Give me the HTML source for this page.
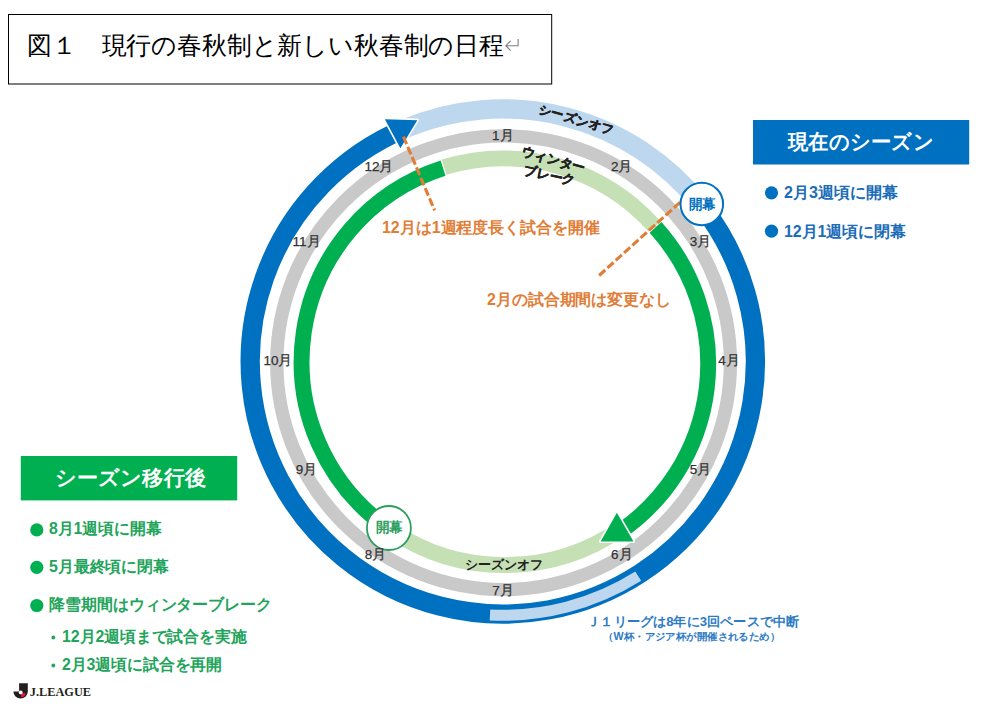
<!DOCTYPE html>
<html><head><meta charset="utf-8"><style>
html,body{margin:0;padding:0;background:#fff;}
body{width:988px;height:707px;overflow:hidden;}
svg{display:block;font-family:"Liberation Sans", sans-serif;}
</style></head><body>
<svg width="988" height="707" viewBox="0 0 988 707">
<rect width="988" height="707" fill="#fff"/>
<path d="M404.10,128.98 A252.6,252.6 0 0 1 701.03,204.94" stroke="#BDD7EE" stroke-width="19.3" fill="none"/>
<path d="M701.03,204.94 A252.6,252.6 0 1 1 404.10,128.98" stroke="#0070C0" stroke-width="19.3" fill="none"/>
<path d="M638.23,576.15 A253.8,253.8 0 0 1 489.96,614.97" stroke="#BDD7EE" stroke-width="11" fill="none"/>
<path d="M503.60,135.80 A226.9,226.9 0 0 1 503.60,589.60 A226.9,226.9 0 0 1 503.60,135.80" stroke="#C9C9C9" stroke-width="13.3" fill="none"/>
<path d="M621.51,528.33 A203.3,203.3 0 0 1 389.75,529.34" stroke="#C5E0B4" stroke-width="15.9" fill="none"/>
<path d="M444.04,167.18 A203.3,203.3 0 0 1 654.59,226.56" stroke="#C5E0B4" stroke-width="15.9" fill="none"/>
<path d="M389.75,529.34 A203.3,203.3 0 0 1 443.09,168.12" stroke="#00B050" stroke-width="15.9" fill="none"/>
<path d="M655.51,227.44 A203.3,203.3 0 0 1 618.58,532.54" stroke="#00B050" stroke-width="15.9" fill="none"/>
<polygon points="384.9,119.2 417.3,120.2 400.4,148.2" fill="#fff" stroke="#fff" stroke-width="3.2" stroke-linejoin="round"/>
<polygon points="384.9,119.2 417.3,120.2 400.4,148.2" fill="#0070C0"/>
<polygon points="616.9,512.7 600.6,541.4 633.5,541.4" fill="#fff" stroke="#fff" stroke-width="3.2" stroke-linejoin="round"/>
<polygon points="616.9,512.7 600.6,541.4 633.5,541.4" fill="#00B050"/>
<line x1="403.4" y1="136.5" x2="434.6" y2="210.4" stroke="#E07D37" stroke-width="3.1" stroke-dasharray="8.2 3"/>
<line x1="680" y1="202.4" x2="599" y2="275.6" stroke="#E07D37" stroke-width="3.1" stroke-dasharray="8.2 3"/>
<circle cx="701.8" cy="204" r="21.3" fill="#fff" stroke="#0070C0" stroke-width="2"/>
<text x="702.1" y="209" font-size="14" fill="#0070C0" font-weight="bold" text-anchor="middle" textLength="27" lengthAdjust="spacingAndGlyphs">開幕</text>
<circle cx="388.9" cy="528" r="22" fill="#fff" stroke="#2E9E5E" stroke-width="1.8"/>
<text x="389.2" y="532.3" font-size="14" fill="#2E9E5E" font-weight="bold" text-anchor="middle" textLength="27" lengthAdjust="spacingAndGlyphs">開幕</text>
<text x="502.8" y="140.4" font-size="13.5" fill="#333333" text-anchor="middle" stroke="#333333" stroke-width="0.25" textLength="21.5" lengthAdjust="spacingAndGlyphs">1月</text>
<text x="621.7" y="171.0" font-size="13.5" fill="#333333" text-anchor="middle" stroke="#333333" stroke-width="0.25" textLength="21.5" lengthAdjust="spacingAndGlyphs">2月</text>
<text x="700.4" y="246.3" font-size="13.5" fill="#333333" text-anchor="middle" stroke="#333333" stroke-width="0.25" textLength="21.5" lengthAdjust="spacingAndGlyphs">3月</text>
<text x="729.1" y="364.8" font-size="13.5" fill="#333333" text-anchor="middle" stroke="#333333" stroke-width="0.25" textLength="21.5" lengthAdjust="spacingAndGlyphs">4月</text>
<text x="700.5" y="473.9" font-size="13.5" fill="#333333" text-anchor="middle" stroke="#333333" stroke-width="0.25" textLength="21.5" lengthAdjust="spacingAndGlyphs">5月</text>
<text x="621.8" y="559.0" font-size="13.5" fill="#333333" text-anchor="middle" stroke="#333333" stroke-width="0.25" textLength="21.5" lengthAdjust="spacingAndGlyphs">6月</text>
<text x="502.9" y="595.0" font-size="13.5" fill="#333333" text-anchor="middle" stroke="#333333" stroke-width="0.25" textLength="21.5" lengthAdjust="spacingAndGlyphs">7月</text>
<text x="375.4" y="559.2" font-size="13.5" fill="#333333" text-anchor="middle" stroke="#333333" stroke-width="0.25" textLength="21.5" lengthAdjust="spacingAndGlyphs">8月</text>
<text x="306.5" y="473.9" font-size="13.5" fill="#333333" text-anchor="middle" stroke="#333333" stroke-width="0.25" textLength="21.5" lengthAdjust="spacingAndGlyphs">9月</text>
<text x="277.9" y="365.1" font-size="13.5" fill="#333333" text-anchor="middle" stroke="#333333" stroke-width="0.25" textLength="29" lengthAdjust="spacingAndGlyphs">10月</text>
<text x="306.6" y="246.1" font-size="13.5" fill="#333333" text-anchor="middle" stroke="#333333" stroke-width="0.25" textLength="28" lengthAdjust="spacingAndGlyphs">11月</text>
<text x="379.0" y="171.1" font-size="13.5" fill="#333333" text-anchor="middle" stroke="#333333" stroke-width="0.25" textLength="29" lengthAdjust="spacingAndGlyphs">12月</text>
<text transform="translate(576.5,119.2) rotate(16)" font-size="12.5" font-weight="bold" fill="#222" stroke="#222" stroke-width="0.5" text-anchor="middle" y="4.5" textLength="78" lengthAdjust="spacingAndGlyphs">シーズンオフ</text>
<text transform="translate(553.5,159.3) rotate(15)" font-size="13" font-weight="bold" fill="#222" stroke="#222" stroke-width="0.5" text-anchor="middle" y="4.7" textLength="65" lengthAdjust="spacingAndGlyphs">ウィンター</text>
<text transform="translate(549.5,175) rotate(12)" font-size="13" font-weight="bold" fill="#222" stroke="#222" stroke-width="0.5" text-anchor="middle" y="4.7" textLength="52" lengthAdjust="spacingAndGlyphs">ブレーク</text>
<text x="504.4" y="568.8" font-size="12.5" fill="#222" font-weight="bold" text-anchor="middle" textLength="78" lengthAdjust="spacingAndGlyphs">シーズンオフ</text>
<text x="382" y="233" font-size="16" fill="#E07D37" font-weight="bold" textLength="218" lengthAdjust="spacingAndGlyphs">12月は1週程度長く試合を開催</text>
<text x="487" y="304.5" font-size="16" fill="#E07D37" font-weight="bold" textLength="184" lengthAdjust="spacingAndGlyphs">2月の試合期間は変更なし</text>
<text x="693.2" y="626" font-size="13" fill="#2C7BC4" font-weight="bold" text-anchor="middle" textLength="212" lengthAdjust="spacingAndGlyphs">Ｊ１リーグは8年に3回ペースで中断</text>
<text x="691.7" y="639.5" font-size="10.2" fill="#2C7BC4" font-weight="bold" text-anchor="middle" textLength="177" lengthAdjust="spacingAndGlyphs">（W杯・アジア杯が開催されるため）</text>
<rect x="753" y="120" width="216.2" height="44.5" fill="#0070C0"/>
<text x="861" y="149" font-size="20.5" fill="#fff" font-weight="bold" text-anchor="middle" textLength="146" lengthAdjust="spacingAndGlyphs">現在のシーズン</text>
<circle cx="771.5" cy="192.8" r="6.6" fill="#0070C0"/>
<text x="784" y="198.3" font-size="16" fill="#1B6DB8" font-weight="bold" textLength="114" lengthAdjust="spacingAndGlyphs">2月3週頃に開幕</text>
<circle cx="771.5" cy="231.2" r="6.6" fill="#0070C0"/>
<text x="784" y="236.7" font-size="16" fill="#1B6DB8" font-weight="bold" textLength="122" lengthAdjust="spacingAndGlyphs">12月1週頃に閉幕</text>
<rect x="20.8" y="456" width="216.4" height="44.4" fill="#00B050"/>
<text x="130.4" y="484.5" font-size="20.5" fill="#fff" font-weight="bold" text-anchor="middle" textLength="150.5" lengthAdjust="spacingAndGlyphs">シーズン移行後</text>
<circle cx="36.8" cy="529.9" r="6.6" fill="#00B050"/>
<text x="49" y="534.3" font-size="16" fill="#22A45A" font-weight="bold" textLength="112.5" lengthAdjust="spacingAndGlyphs">8月1週頃に開幕</text>
<circle cx="36.8" cy="567.3" r="6.6" fill="#00B050"/>
<text x="49" y="571.6999999999999" font-size="16" fill="#22A45A" font-weight="bold" textLength="120" lengthAdjust="spacingAndGlyphs">5月最終頃に閉幕</text>
<circle cx="36.8" cy="605.5" r="6.6" fill="#00B050"/>
<text x="49" y="609.9" font-size="16" fill="#22A45A" font-weight="bold" textLength="223" lengthAdjust="spacingAndGlyphs">降雪期間はウィンターブレーク</text>
<circle cx="53.3" cy="637.5" r="1.9" fill="#22A45A"/>
<text x="62" y="642.1" font-size="16" fill="#22A45A" font-weight="bold" textLength="184.5" lengthAdjust="spacingAndGlyphs">12月2週頃まで試合を実施</text>
<circle cx="53.3" cy="665.5" r="1.9" fill="#22A45A"/>
<text x="62" y="670.1" font-size="16" fill="#22A45A" font-weight="bold" textLength="160" lengthAdjust="spacingAndGlyphs">2月3週頃に試合を再開</text>
<rect x="8.5" y="14.5" width="543.2" height="69.5" fill="#fff" stroke="#000" stroke-width="1"/>
<text x="27" y="54" font-family="Liberation Sans, sans-serif" font-size="24.9" fill="#000" textLength="477" lengthAdjust="spacingAndGlyphs">図１　現行の春秋制と新しい秋春制の日程</text>
<path d="M518.1,39.1 V45.7 H506 M510.7,40.8 L505.8,45.7 L510.7,50.6" stroke="#7f7f7f" stroke-width="1.1" fill="none"/>
<path d="M19.1,683.3 H27.8 V691.4 A7.2,7.2 0 0 1 13.4,691.4 H19.1 Z" fill="#231f20"/>
<path d="M20.7,692.4 L25.7,693.6 A5,5 0 0 1 21.4,697.4 Z" fill="#e5173f"/>
<circle cx="20.7" cy="692.4" r="1.9" fill="#fff"/>
<text x="29.8" y="695.9" font-family="Liberation Serif, serif" font-size="13" font-weight="bold" fill="#231f20" textLength="61.2" lengthAdjust="spacingAndGlyphs">J.LEAGUE</text>
</svg>
</body></html>
